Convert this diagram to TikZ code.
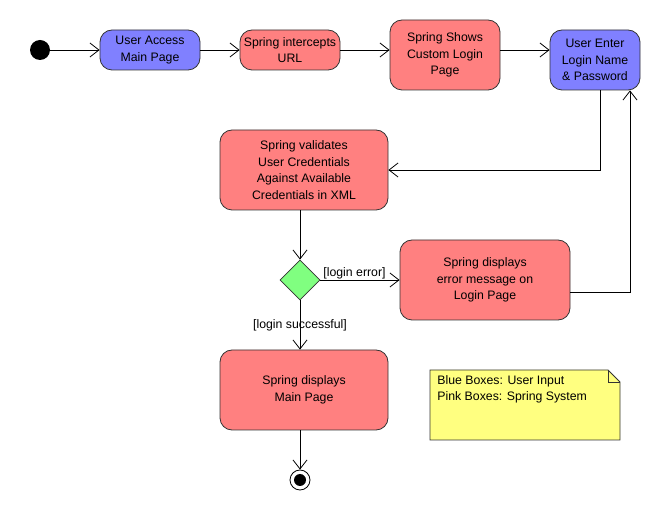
\documentclass[tikz,border=0pt]{standalone}
\usepackage{fontspec}
\setmainfont{Liberation Sans}
\usetikzlibrary{shapes.geometric, arrows.meta, positioning}

\definecolor{userblue}{RGB}{128,128,255}
\definecolor{springpink}{RGB}{255,128,128}
\definecolor{choicegreen}{RGB}{128,255,128}
\definecolor{noteyellow}{RGB}{255,255,128}

\begin{document}
\begin{tikzpicture}[x=1pt, y=-1pt, line width=0.8pt,
    font=\fontsize{12.3}{16.5}\selectfont,
    action/.style={draw=black!80, rounded corners=12pt, align=center, inner sep=2pt},
    useract/.style={action, fill=userblue},
    springact/.style={action, fill=springpink},
    choice/.style={diamond, draw=black!80, fill=choicegreen, minimum width=40pt, minimum height=40pt, inner sep=0pt},
    flow/.style={-{Straight Barb[length=9pt, width=14pt]}, black}
  ]
    \useasboundingbox (0,0) rectangle (670,510);

    % Initial node
    \node[circle, fill=black, minimum size=20pt, inner sep=0pt] (start) at (40,50) {};

    % Top row of activities
    \node[useract, minimum width=100pt, minimum height=40pt] (access) at (150,50) {User Access\\Main Page};
    \node[springact, minimum width=100pt, minimum height=40pt] (intercept) at (290,50) {Spring intercepts\\URL};
    \node[springact, minimum width=110pt, minimum height=70pt] (custom) at (445,55) {Spring Shows\\Custom Login\\Page};
    \node[useract, minimum width=90pt, minimum height=60pt] (enter) at (595,60) {User Enter\\Login Name\\\& Password};

    \draw[flow] (start) -- (access);
    \draw[flow] (access) -- (intercept);
    \draw[flow] (intercept) -- (custom.west |- intercept);
    \draw[flow] (custom.east |- intercept) -- (enter.west |- intercept);

    % Validation
    \node[springact, minimum width=168pt, minimum height=80pt] (validate) at (304,170) {Spring validates\\User Credentials\\Against Available\\Credentials in XML};
    \draw[flow] ([xshift=5pt]enter.south) |- (validate.east);

    % Decision
    \node[choice] (decide) at (300,280) {};
    \draw[flow] (validate.south -| decide) -- (decide);

    % Error path
    \node[springact, minimum width=170pt, minimum height=80pt] (error) at (485,280) {Spring displays\\error message on\\Login Page};
    \draw[flow] (decide) -- (error) node[pos=0.02, above right, inner sep=1pt] {[login error]};
    \draw[flow] ([yshift=-12pt]error.east) -| ([xshift=35pt]enter.south);

    % Success path
    \node[springact, minimum width=168pt, minimum height=80pt] (mainpage) at (304,390) {Spring displays\\Main Page};
    \draw[flow] (decide) -- (decide |- mainpage.north) node[midway, inner sep=1pt] {[login successful]};

    % Final node
    \node[circle, draw=black, fill=white, minimum size=20pt, inner sep=0pt] (finish) at (300,480) {};
    \node[circle, fill=black, minimum size=12pt, inner sep=0pt] at (finish) {};
    \draw[flow] (mainpage.south -| finish) -- (finish);

    % Legend note
    \draw[black!80, fill=noteyellow] (430,370) -- (608,370) -- (620,382) -- (620,440) -- (430,440) -- cycle;
    \draw[black!80] (608,370) -- (608,382) -- (620,382);
    \node[anchor=north west, align=left, inner sep=0pt] (legend) at (437,375) {Blue Boxes: User Input\\Pink Boxes: Spring System};
\end{tikzpicture}
\end{document}
